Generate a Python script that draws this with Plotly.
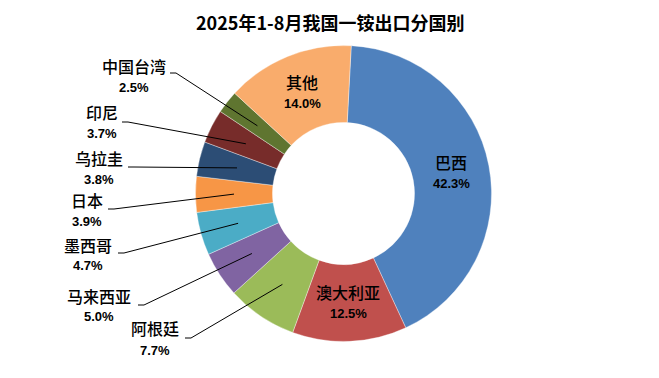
import math
import plotly.graph_objects as go

# ---- data ----
countries = ["巴西", "澳大利亚", "阿根廷", "马来西亚", "墨西哥", "日本", "乌拉圭", "印尼", "中国台湾", "其他"]
shares = [42.3, 12.5, 7.7, 5.0, 4.7, 3.9, 3.8, 3.7, 2.5, 14.0]
pct_labels = ["42.3%", "12.5%", "7.7%", "5.0%", "4.7%", "3.9%", "3.8%", "3.7%", "2.5%", "14.0%"]
colors = ["#4F81BD", "#C0504D", "#9BBB59", "#8064A2", "#4BACC6",
          "#F79646", "#2C4D75", "#772C2A", "#5F7530", "#F9AC6C"]
title = "2025年1-8月我国一铵出口分国别"

# ---- layout (pixel geometry) ----
W, H = 659, 378
cx, cy, R, hole = 343.5, 193.5, 148.0, 0.48
rotation = 3.0
r_mid = R * (1 + hole) / 2

# outside label placement: name centre (x, y), pct y, leader start (x, y)
outside = {
    "阿根廷": (155, 328, 350, (185, 338)),
    "马来西亚": (99, 296, 316, (138, 305)),
    "墨西哥": (88, 245, 265, (118, 253)),
    "日本": (87, 200, 221, (108, 209)),
    "乌拉圭": (99, 158, 179, (128, 167)),
    "印尼": (102, 112, 133, (122, 122)),
    "中国台湾": (134, 66, 87, (170, 73)),
}

total = sum(shares)
fig = go.Figure()
fig.add_trace(go.Pie(
    labels=countries, values=shares, sort=False, direction="clockwise",
    rotation=rotation, hole=hole, textinfo="none", hoverinfo="label+percent",
    marker=dict(colors=colors, line=dict(color="rgba(255,255,255,0.6)", width=0.6)),
    domain=dict(x=[(cx - R) / W, (cx + R) / W], y=[1 - (cy + R) / H, 1 - (cy - R) / H]),
    showlegend=False,
))

name_font = dict(family="Noto Sans CJK SC", size=16, color="#000000", weight=500)
pct_font = dict(family="Liberation Sans", size=13, color="#000000")

annotations = []
shapes = []
cum = 0.0
for name, v, pl in zip(countries, shares, pct_labels):
    mid = rotation + (cum + v / 2) / total * 360.0
    cum += v
    a = math.radians(mid)
    px = cx + r_mid * math.sin(a)
    py = cy - r_mid * math.cos(a)
    if name in outside:
        nx, ny, pyy, (sx, sy) = outside[name]
        shapes.append(dict(type="path", xref="x", yref="y",
                           path=f"M{sx},{sy} L{sx + 6},{sy} L{px:.1f},{py:.1f}",
                           line=dict(color="#000000", width=1)))
    else:
        nx, ny, pyy = px, py - 10.5, py + 11
    annotations.append(dict(x=nx, y=ny, xref="x", yref="y", text=name, showarrow=False,
                            font=name_font, xanchor="center", yanchor="middle"))
    annotations.append(dict(x=nx, y=pyy, xref="x", yref="y", text=f"<b>{pl}</b>", showarrow=False,
                            font=pct_font, xanchor="center", yanchor="middle"))

annotations.append(dict(x=W / 2, y=22, xref="x", yref="y", text=f"<b>{title}</b>", showarrow=False,
                        font=dict(family="Noto Sans CJK SC", size=18, color="#000000"),
                        xanchor="center", yanchor="middle"))

fig.update_layout(
    width=W, height=H, margin=dict(l=0, r=0, t=0, b=0),
    paper_bgcolor="white", plot_bgcolor="rgba(0,0,0,0)",
    xaxis=dict(range=[0, W], visible=False, domain=[0, 1], fixedrange=True),
    yaxis=dict(range=[H, 0], visible=False, domain=[0, 1], fixedrange=True),
    annotations=annotations, shapes=shapes,
)
fig.write_html("out.html", config={"displayModeBar": False},
               post_script="document.body.style.margin='0';document.body.style.overflow='hidden';")
